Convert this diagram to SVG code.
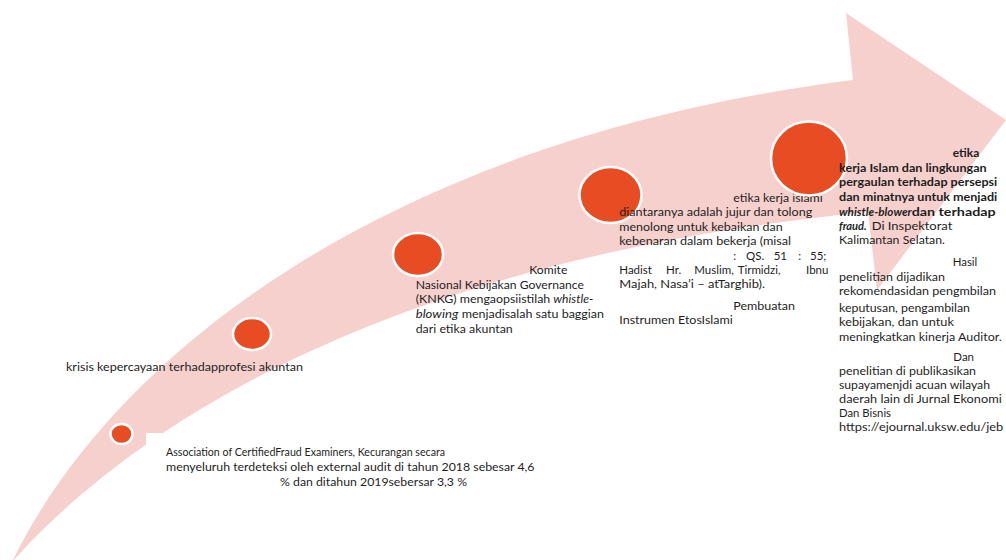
<svg xmlns="http://www.w3.org/2000/svg" width="1006" height="560" viewBox="0 0 1006 560">
<style>
.arrow{fill:#F5D0CD;stroke:none}
.dot{fill:#E84C22;stroke:#FFFFFF;stroke-width:2.5}
text{font-family:Lato,"Liberation Sans",sans-serif;font-size:11.5px;fill:#1E1E1E}
.b{font-weight:bold}
.i{font-style:italic}
</style>
<rect width="1006" height="560" fill="#FFFFFF"/>
<g id="arrow">
<path class="arrow" d="M12,562 C110,360 380,140 853,80 L846,13 L1006,120 L877,290 L868,212 C380,260 130,430 12,562 Z"/>
</g>
<g id="connectors"></g>
<g id="node-1">
<rect x="146" y="433" width="400" height="60" fill="#FFFFFF"/>
<ellipse class="dot" cx="121.5" cy="434" rx="11" ry="10"/>
<text x="166" y="455.5" textLength="279" lengthAdjust="spacingAndGlyphs">Association of CertifiedFraud Examiners, Kecurangan secara</text>
<text x="166" y="470.5" textLength="368.5" lengthAdjust="spacingAndGlyphs">menyeluruh terdeteksi oleh external audit di tahun 2018 sebesar 4,6</text>
<text x="280" y="485.5" textLength="187" lengthAdjust="spacingAndGlyphs">% dan ditahun 2019sebersar 3,3 %</text>
</g>
<g id="node-2">
<ellipse class="dot" cx="252" cy="334" rx="19" ry="16"/>
<text x="66" y="370.5" textLength="237" lengthAdjust="spacingAndGlyphs">krisis kepercayaan terhadapprofesi akuntan</text>
</g>
<g id="node-3">
<ellipse class="dot" cx="418" cy="254.5" rx="25" ry="21.5"/>
<text x="529.3" y="274" textLength="38" lengthAdjust="spacingAndGlyphs">Komite</text>
<text x="415.7" y="288.5" textLength="168.3" lengthAdjust="spacingAndGlyphs">Nasional Kebijakan Governance</text>
<text x="415.7" y="303" textLength="134.5" lengthAdjust="spacingAndGlyphs">(KNKG) mengaopsiistilah</text>
<text class="i" x="553.3" y="303" textLength="40" lengthAdjust="spacingAndGlyphs">whistle-</text>
<text class="i" x="415.7" y="318" textLength="42.6" lengthAdjust="spacingAndGlyphs">blowing</text>
<text x="461.7" y="318" textLength="142.3" lengthAdjust="spacingAndGlyphs">menjadisalah satu baggian</text>
<text x="415.7" y="332.5" textLength="97" lengthAdjust="spacingAndGlyphs">dari etika akuntan</text>
</g>
<g id="node-4">
<ellipse class="dot" cx="610.5" cy="195" rx="31" ry="28"/>
<text x="733.3" y="202" textLength="89.4" lengthAdjust="spacingAndGlyphs">etika kerja islami</text>
<text x="619.3" y="216" textLength="193" lengthAdjust="spacingAndGlyphs">diantaranya adalah jujur dan tolong</text>
<text x="619.3" y="230.5" textLength="163.4" lengthAdjust="spacingAndGlyphs">menolong untuk kebaikan dan</text>
<text x="619.3" y="244.5" textLength="171.7" lengthAdjust="spacingAndGlyphs">kebenaran dalam bekerja (misal</text>
<text x="733.3" y="260">:</text>
<text x="746" y="260">QS.</text>
<text x="773.7" y="260">51</text>
<text x="798.3" y="260">:</text>
<text x="810" y="260">55;</text>
<text x="619.3" y="274">Hadist</text>
<text x="666" y="274">Hr.</text>
<text x="694.3" y="274">Muslim,</text>
<text x="737.7" y="274">Tirmidzi,</text>
<text x="806" y="274">Ibnu</text>
<text x="619.3" y="288" textLength="145.7" lengthAdjust="spacingAndGlyphs">Majah, Nasa’i – atTarghib).</text>
<text x="733.3" y="309.5" textLength="61.7" lengthAdjust="spacingAndGlyphs">Pembuatan</text>
<text x="619.3" y="324" textLength="113.4" lengthAdjust="spacingAndGlyphs">Instrumen EtosIslami</text>
</g>
<g id="node-5">
<ellipse class="dot" cx="809" cy="158.5" rx="38" ry="37"/>
<text class="b" x="952.7" y="157" textLength="26.6" lengthAdjust="spacingAndGlyphs">etika</text>
<text class="b" x="839" y="172" textLength="147.7" lengthAdjust="spacingAndGlyphs">kerja Islam dan lingkungan</text>
<text class="b" x="839" y="186" textLength="158.3" lengthAdjust="spacingAndGlyphs">pergaulan terhadap persepsi</text>
<text class="b" x="839" y="200.5" textLength="158.3" lengthAdjust="spacingAndGlyphs">dan minatnya untuk menjadi</text>
<text class="b i" x="839" y="215.5" textLength="72.7" lengthAdjust="spacingAndGlyphs">whistle-blower</text>
<text class="b" x="911.7" y="215.5" textLength="84" lengthAdjust="spacingAndGlyphs">dan terhadap</text>
<text class="b i" x="839" y="230" textLength="27.7" lengthAdjust="spacingAndGlyphs">fraud.</text>
<text x="871.7" y="230" textLength="80.6" lengthAdjust="spacingAndGlyphs">Di Inspektorat</text>
<text x="839" y="244" textLength="106" lengthAdjust="spacingAndGlyphs">Kalimantan Selatan.</text>
<text x="952.7" y="265.5" textLength="24.6" lengthAdjust="spacingAndGlyphs">Hasil</text>
<text x="839" y="280.5" textLength="106" lengthAdjust="spacingAndGlyphs">penelitian dijadikan</text>
<text x="839" y="294.5" textLength="157" lengthAdjust="spacingAndGlyphs">rekomendasidan pengmbilan</text>
<text x="839" y="312" textLength="131" lengthAdjust="spacingAndGlyphs">keputusan, pengambilan</text>
<text x="839" y="326" textLength="115" lengthAdjust="spacingAndGlyphs">kebijakan, dan untuk</text>
<text x="839" y="340.5" textLength="162.7" lengthAdjust="spacingAndGlyphs">meningkatkan kinerja Auditor.</text>
<text x="953.3" y="360.5" textLength="20.7" lengthAdjust="spacingAndGlyphs">Dan</text>
<text x="839" y="375" textLength="137" lengthAdjust="spacingAndGlyphs">penelitian di publikasikan</text>
<text x="839" y="389" textLength="151" lengthAdjust="spacingAndGlyphs">supayamenjdi acuan wilayah</text>
<text x="839" y="402.5" textLength="162.7" lengthAdjust="spacingAndGlyphs">daerah lain di Jurnal Ekonomi</text>
<text x="839" y="416.5" textLength="52" lengthAdjust="spacingAndGlyphs">Dan Bisnis</text>
<text x="839" y="430.5" textLength="164.3" lengthAdjust="spacingAndGlyphs">https://ejournal.uksw.edu/jeb</text>
</g>
</svg>
